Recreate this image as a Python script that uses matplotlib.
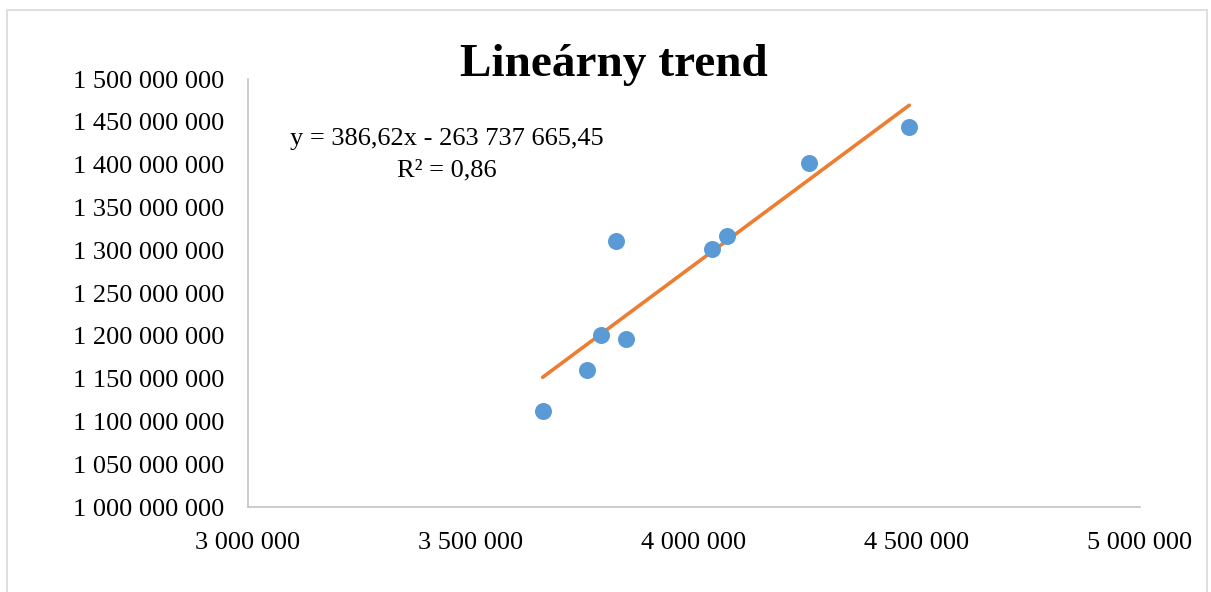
import matplotlib
matplotlib.use("Agg")
import matplotlib.pyplot as plt
from matplotlib.ticker import FuncFormatter, MultipleLocator
from matplotlib.patches import Rectangle

# Data
x_vals = [3660700, 3759200, 3790600, 3824200, 3846600, 4041400, 4075000, 4258700, 4482600]
y_vals = [1112150000, 1160050000, 1200900000, 1310750000, 1196260000,
          1301400000, 1316590000, 1401870000, 1443930000]
slope = 386.62
intercept = -263737665.45
r_squared = 0.86
title = "Lineárny trend"

plt.rcParams['font.family'] = ['Liberation Serif', 'DejaVu Serif']

fig = plt.figure(figsize=(12.11, 5.92), dpi=100)
ax = fig.add_axes([248/1211, 1-507/592, (1140-248)/1211, (507-79)/592])

# outer chart border
fig.patches.append(Rectangle((7/1211, -0.05), (1207-7)/1211, 1.05 - 10/592,
                             transform=fig.transFigure, fill=False,
                             edgecolor='#D9D9D9', lw=1.2))

ax.scatter(x_vals, y_vals, s=150, color='#5B9BD5', zorder=3, linewidths=0)
xs = [min(x_vals), max(x_vals)]
ys = [slope * v + intercept for v in xs]
ax.plot(xs, ys, color='#ED7D31', lw=2.6, solid_capstyle='round', zorder=2)

ax.set_xlim(3000000, 5000000)
ax.set_ylim(1000000000, 1500000000)
ax.xaxis.set_major_locator(MultipleLocator(500000))
ax.yaxis.set_major_locator(MultipleLocator(50000000))
fmt = FuncFormatter(lambda v, p: f"{int(round(v)):,}".replace(",", " "))
ax.xaxis.set_major_formatter(fmt)
ax.yaxis.set_major_formatter(fmt)
ax.tick_params(axis='both', length=0, labelsize=19, colors='black')
ax.tick_params(axis='y', pad=17)
ax.tick_params(axis='x', pad=18)

for s in ['top', 'right']:
    ax.spines[s].set_visible(False)
for s in ['left', 'bottom']:
    ax.spines[s].set_color('#C4C4C4')
    ax.spines[s].set_linewidth(1.2)

fig.text(614/1211, 1-65/592, title, ha='center', va='center',
         fontsize=34, fontweight='bold')

eq = f"y = {slope:.2f}".replace(".", ",") + "x - " + \
     f"{abs(intercept):,.2f}".replace(",", " ").replace(".", ",")
fig.text(447/1211, 1-139/592, eq, ha='center', va='center', fontsize=19)
fig.text(447/1211, 1-170/592, f"R² = {r_squared:.2f}".replace(".", ","),
         ha='center', va='center', fontsize=19)

fig.savefig("out.png", dpi=100, facecolor='white')
